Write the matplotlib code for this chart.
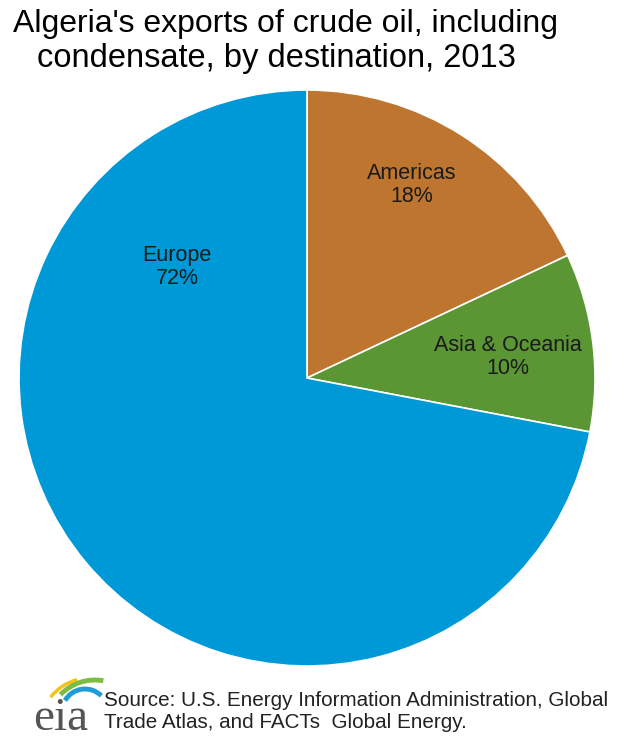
import matplotlib
matplotlib.use("Agg")
import matplotlib.pyplot as plt
import numpy as np
from matplotlib.patches import Arc

plt.rcParams['font.family'] = ['Liberation Sans', 'DejaVu Sans']

categories = ["Americas", "Asia & Oceania", "Europe"]
shares = [18, 10, 72]
colors = ["#BE7530", "#5B9634", "#0099D8"]

title_lines = ["Algeria's exports of crude oil, including",
               "condensate, by destination, 2013"]
source = "Source: U.S. Energy Information Administration, Global\nTrade Atlas, and FACTs  Global Energy."

W, H = 624, 741
fig = plt.figure(figsize=(W / 100, H / 100), dpi=100)
ax = fig.add_axes([0, 0, 1, 1])

cx, cy, r = 307, H - 378, 288
wedges, _ = ax.pie(shares, colors=colors, startangle=90, counterclock=False,
                   center=(cx, cy), radius=r,
                   wedgeprops=dict(linewidth=1.2, edgecolor="white"))
ax.set_xlim(0, W)
ax.set_ylim(0, H)
ax.set_aspect("equal")
ax.axis("off")

label_pos = [(412, H - 185), (508, H - 357), (177, H - 267)]
for cat, val, (x, y) in zip(categories, shares, label_pos):
    ax.text(x, y, f"{cat}\n{val}%", ha="center", va="center", fontsize=15.5,
            color="#1a1a1a", linespacing=1.1)

fig.text(13 / W, 1 - 24 / H, title_lines[0], ha="left", va="center", fontsize=23,
         color="black")
fig.text(37 / W, 1 - 58 / H, title_lines[1], ha="left", va="center", fontsize=23.5,
         color="black")

fig.text(104 / W, 1 - 711 / H, source, ha="left", va="center", fontsize=14.9,
         color="#222222", linespacing=1.2)

# eia logo
ax.text(61, 0.5, "eia", family="Liberation Serif", fontsize=34, color="#555555",
        ha="center", va="bottom")
arc_specs = [("#F2C318", (90, 728), 50, 105, 142, 2.5),
             ("#7DBB42", (95, 728), 48, 80, 136, 3.5),
             ("#1E9CD7", (85, 712), 23, 45, 150, 3.5)]
for c, (ax0, ay0), rad, t1, t2, lw in arc_specs:
    ax.add_patch(Arc((ax0, H - ay0), 2 * rad, 2 * rad, theta1=t1, theta2=t2,
                     color=c, lw=lw))

fig.savefig("out.png", dpi=100)
